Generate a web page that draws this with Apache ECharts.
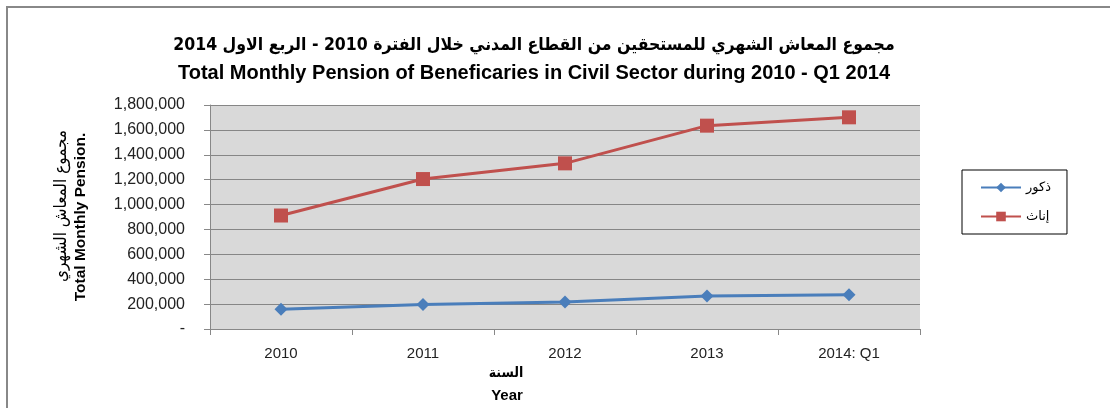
<!DOCTYPE html>
<html><head><meta charset="utf-8">
<script src="https://cdn.jsdelivr.net/npm/echarts@6/dist/echarts.min.js"></script>
<style>html,body{margin:0;padding:0;background:#fff}#c{width:1110px;height:408px}</style>
</head><body><div id="c"></div>
<script>
const categories = ['2010', '2011', '2012', '2013', '2014: Q1'];
const males = [158000, 196000, 217000, 265000, 276000];
const females = [912000, 1205000, 1331000, 1634000, 1701000];
const seriesNames = ['ذكور', 'إناث'];
const titleAr = 'مجموع المعاش الشهري للمستحقين من القطاع المدني خلال الفترة 2010 - الربع الاول 2014';
const titleEn = 'Total Monthly Pension of Beneficaries in Civil Sector during 2010 - Q1 2014';
const yNameAr = 'مجموع المعاش الشهري';
const yNameEn = 'Total Monthly Pension.';
const xNameAr = 'السنة';
const xNameEn = 'Year';

const chart = echarts.init(document.getElementById('c'));
const lab = {fontFamily: 'Liberation Sans', fontSize: 16, color: '#222'};
chart.setOption({
  animation: false,
  grid: {left: 210, right: 190, top: 105, bottom: 79, show: true, backgroundColor: '#d9d9d9', borderWidth: 0},
  graphic: [
    {type: 'rect', shape: {x: 7, y: 7, width: 1200, height: 500}, style: {fill: 'none', stroke: '#888', lineWidth: 2}},
    {type: 'text', x: 534, y: 45, style: {text: titleAr, font: 'bold 17.5px "DejaVu Sans Condensed", "DejaVu Sans"', fill: '#000', textAlign: 'center', textVerticalAlign: 'middle'}},
    {type: 'text', x: 534, y: 73, style: {text: titleEn, font: 'bold 20px "Liberation Sans"', fill: '#000', textAlign: 'center', textVerticalAlign: 'middle'}},
    {type: 'text', x: 62, y: 206, rotation: Math.PI / 2, style: {text: yNameAr, font: '17px "DejaVu Sans Condensed", "DejaVu Sans"', fill: '#000', textAlign: 'center', textVerticalAlign: 'middle'}},
    {type: 'text', x: 81, y: 217, rotation: Math.PI / 2, style: {text: yNameEn, font: 'bold 15.5px "Liberation Sans"', fill: '#000', textAlign: 'center', textVerticalAlign: 'middle'}},
    {type: 'text', x: 506, y: 373, style: {text: xNameAr, font: 'bold 14px "DejaVu Sans Condensed", "DejaVu Sans"', fill: '#000', textAlign: 'center', textVerticalAlign: 'middle'}},
    {type: 'text', x: 507, y: 396, style: {text: xNameEn, font: 'bold 15px "Liberation Sans"', fill: '#000', textAlign: 'center', textVerticalAlign: 'middle'}}
  ],
  legend: {
    orient: 'vertical', left: 962, top: 170,
    borderColor: '#000', borderWidth: 1, padding: [11, 16, 11, 18],
    itemGap: 16, itemWidth: 40, itemHeight: 12,
    textStyle: {fontFamily: 'DejaVu Sans', fontSize: 13, color: '#000'},
    data: seriesNames
  },
  xAxis: {
    type: 'category', data: categories, boundaryGap: true,
    axisLine: {lineStyle: {color: '#888', width: 1}},
    axisTick: {show: true, length: 6, lineStyle: {color: '#888'}, interval: 0},
    axisLabel: Object.assign({margin: 17}, lab, {fontSize: 15}),
    splitLine: {show: false}
  },
  yAxis: {
    type: 'value', min: 0, max: 1800000, interval: 200000,
    axisLine: {show: true, lineStyle: {color: '#888'}},
    axisTick: {show: true, length: 6, lineStyle: {color: '#888'}},
    axisLabel: Object.assign({margin: 25, formatter: v => v === 0 ? '-' : v.toLocaleString('en-US')}, lab),
    splitLine: {show: true, lineStyle: {color: '#868686', width: 1}}
  },
  series: [
    {name: seriesNames[0], type: 'line', data: males, symbol: 'diamond', symbolSize: 13,
     lineStyle: {color: '#4a7ebb', width: 3}, itemStyle: {color: '#4a7ebb'}},
    {name: seriesNames[1], type: 'line', data: females, symbol: 'rect', symbolSize: 14,
     lineStyle: {color: '#c0504d', width: 3}, itemStyle: {color: '#c0504d'}}
  ]
});
</script></body></html>
